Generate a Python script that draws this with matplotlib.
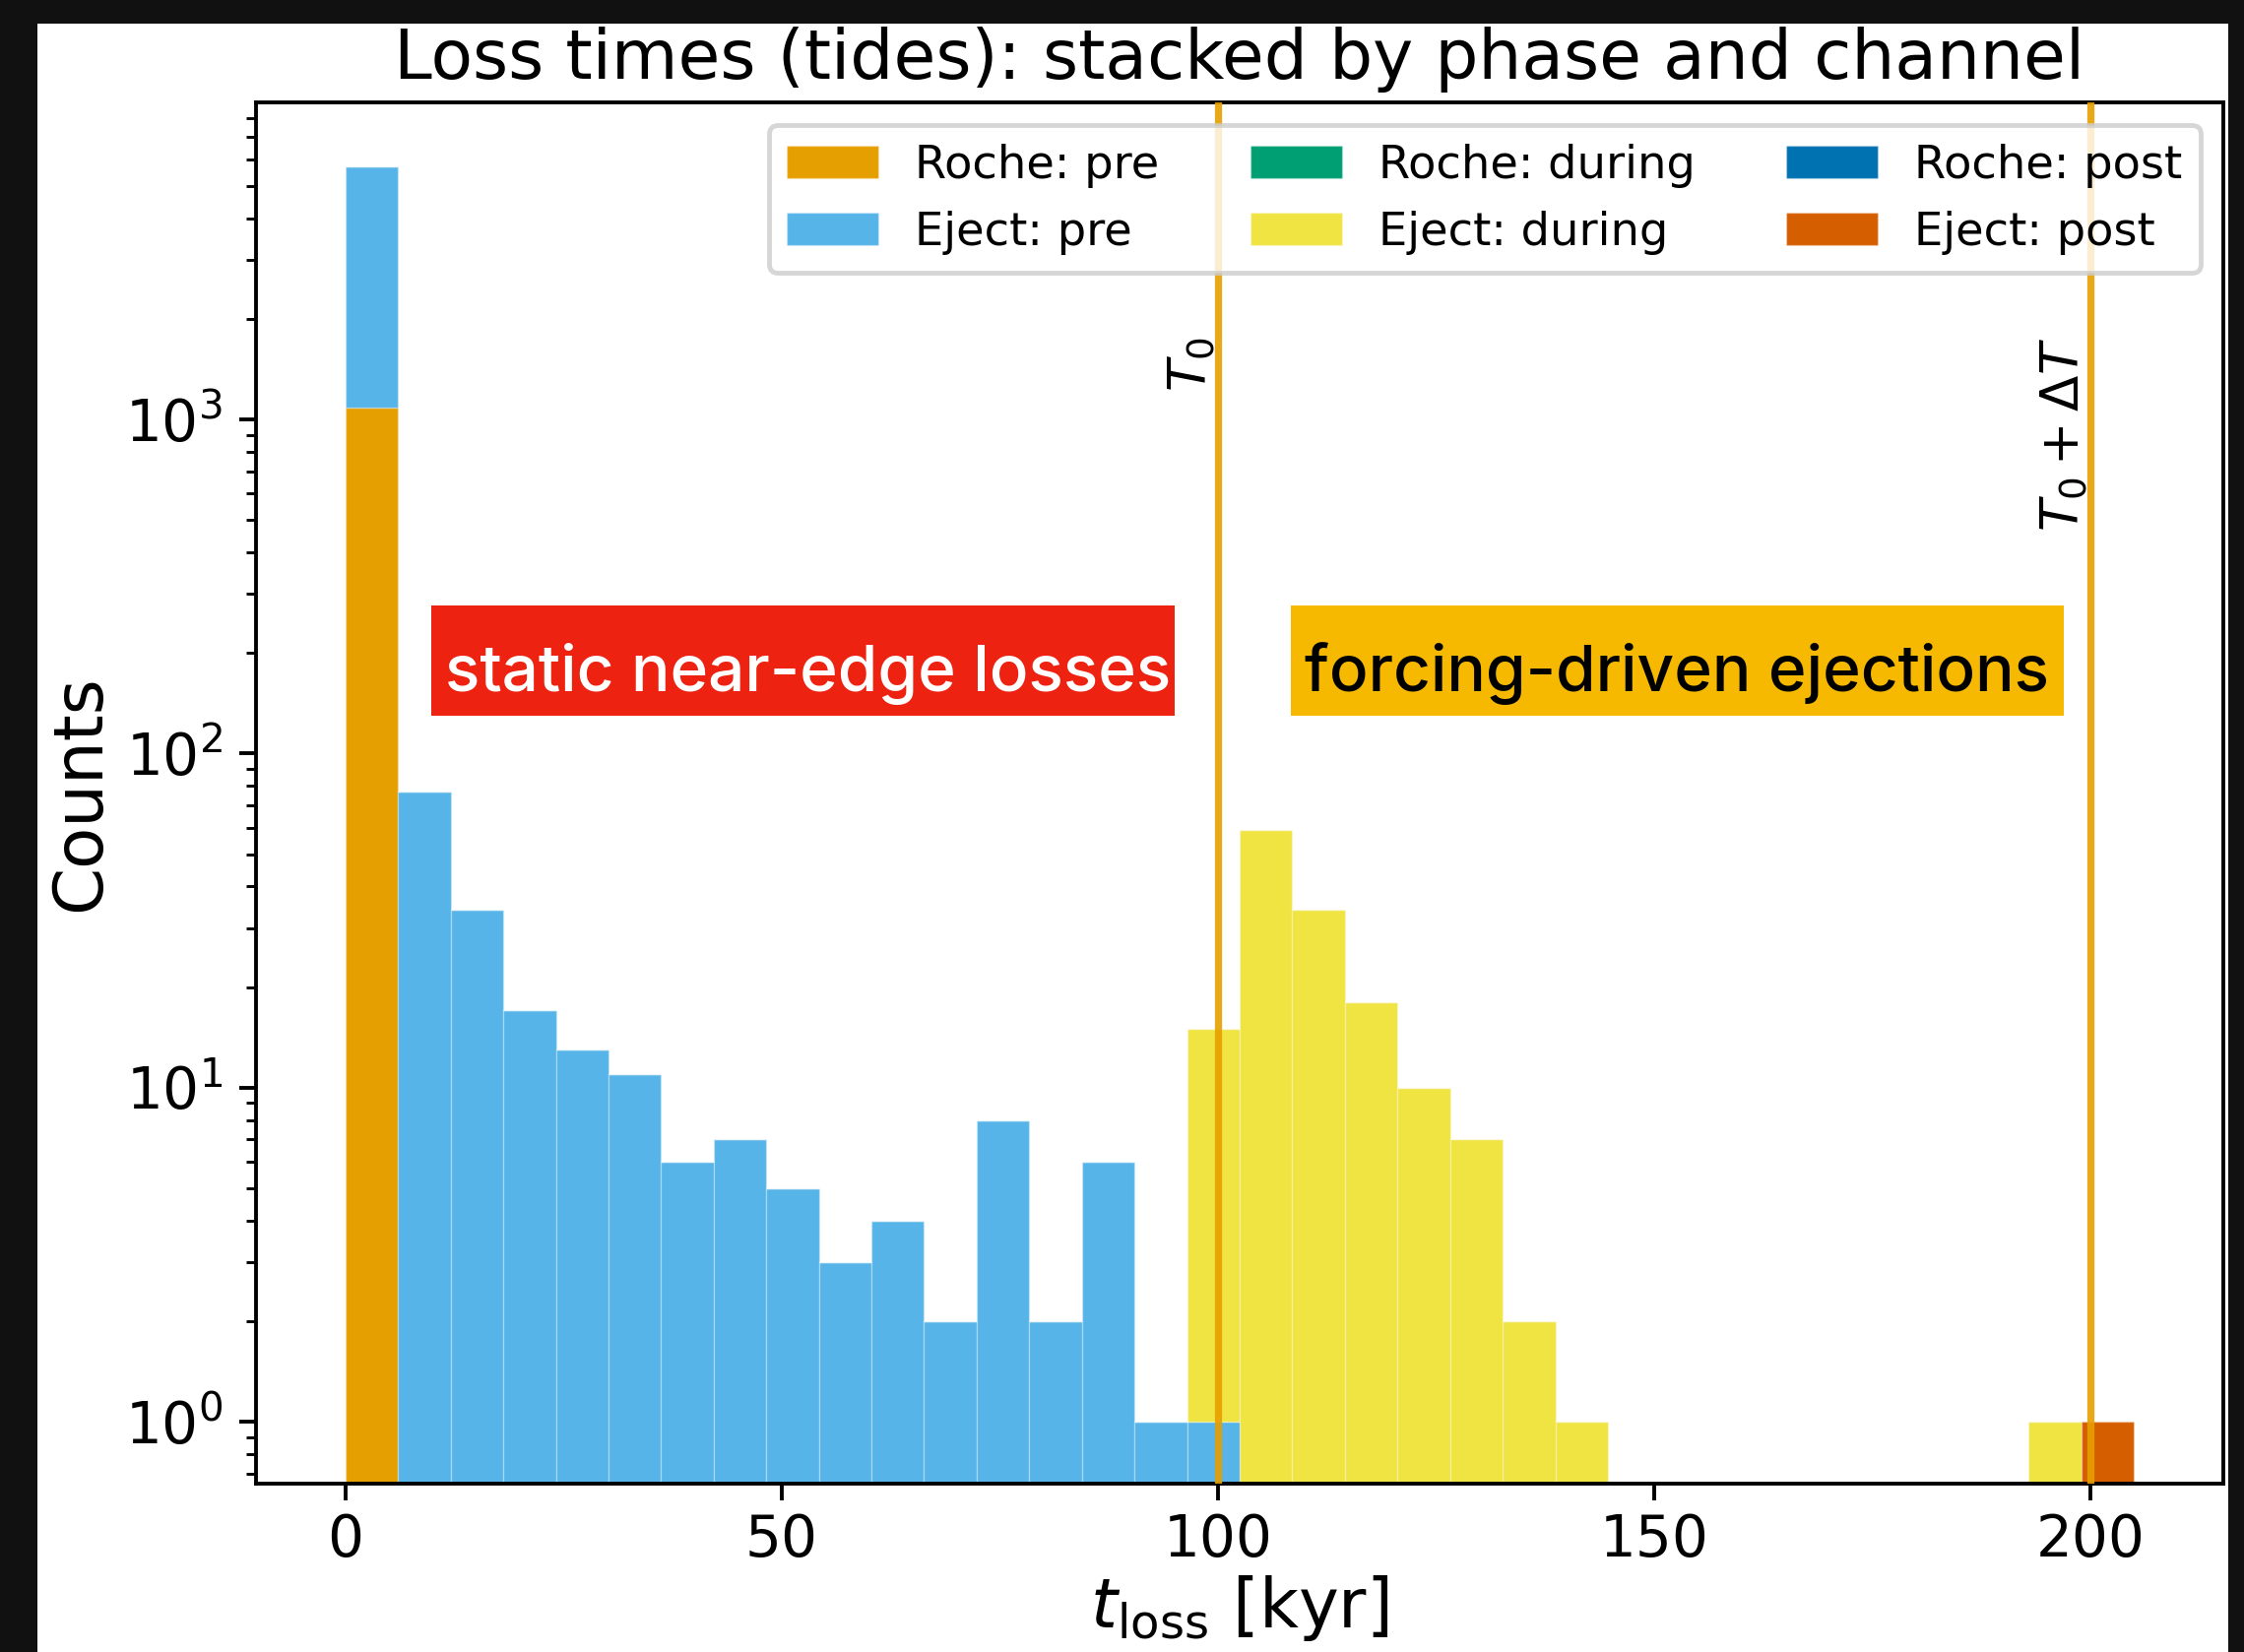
import numpy as np
import matplotlib.pyplot as plt
from matplotlib.patches import Rectangle

DPI = 347.7
W_PX, H_PX = 2279, 1678

# histogram bin edges [kyr]
BIN_EDGES = np.linspace(0.0, 205.0, 35)

# phase markers [kyr]
T0_KYR = 100.0
DELTA_T_KYR = 100.0

SERIES_LABELS = ["Roche: pre", "Eject: pre", "Roche: during",
                 "Eject: during", "Roche: post", "Eject: post"]
SERIES_COLORS = ["#E69F00", "#56B4E9", "#009E73", "#F0E442", "#0072B2", "#D55E00"]

# counts per bin (34 bins)
roche_pre = [1085, 0, 0, 0, 0, 0, 0, 0, 0, 0,
             0, 0, 0, 0, 0, 0, 0, 0, 0, 0,
             0, 0, 0, 0, 0, 0, 0, 0, 0, 0,
             0, 0, 0, 0]
eject_pre = [4630, 77, 34, 17, 13, 11, 6, 7, 5, 3,
             4, 2, 8, 2, 6, 1, 1, 0, 0, 0,
             0, 0, 0, 0, 0, 0, 0, 0, 0, 0,
             0, 0, 0, 0]
roche_during = [0, 0, 0, 0, 0, 0, 0, 0, 0, 0,
                0, 0, 0, 0, 0, 0, 0, 0, 0, 0,
                0, 0, 0, 0, 0, 0, 0, 0, 0, 0,
                0, 0, 0, 0]
eject_during = [0, 0, 0, 0, 0, 0, 0, 0, 0, 0,
                0, 0, 0, 0, 0, 0, 14, 59, 34, 18,
                10, 7, 2, 1, 0, 0, 0, 0, 0, 0,
                0, 0, 1, 0]
roche_post = [0, 0, 0, 0, 0, 0, 0, 0, 0, 0,
              0, 0, 0, 0, 0, 0, 0, 0, 0, 0,
              0, 0, 0, 0, 0, 0, 0, 0, 0, 0,
              0, 0, 0, 0]
eject_post = [0, 0, 0, 0, 0, 0, 0, 0, 0, 0,
              0, 0, 0, 0, 0, 0, 0, 0, 0, 0,
              0, 0, 0, 0, 0, 0, 0, 0, 0, 0,
              0, 0, 0, 1]


def main():
    fig = plt.figure(figsize=(W_PX / DPI, H_PX / DPI), dpi=DPI)
    fig.patch.set_facecolor("#111111")
    # white card of the screenshot
    fig.add_artist(Rectangle((38 / W_PX, 0), (2263 - 38) / W_PX, (H_PX - 24) / H_PX,
                             transform=fig.transFigure, facecolor="white",
                             edgecolor="none", zorder=-10))

    ax = fig.add_axes([0.1141, 0.1019, 0.8767, 0.8361])

    centers = 0.5 * (BIN_EDGES[:-1] + BIN_EDGES[1:])
    weights = [roche_pre, eject_pre, roche_during, eject_during, roche_post, eject_post]
    ax.hist([centers] * len(weights), bins=BIN_EDGES, weights=weights,
            stacked=True, color=SERIES_COLORS, label=SERIES_LABELS, log=True,
            edgecolor=(1, 1, 1, 0.25), linewidth=0.3)

    ax.set_xlim(-10.25, 215.25)
    ax.set_ylim(0.652, 8895)

    line_kw = dict(color="#E69F00", lw=1.5, alpha=0.9, zorder=3)
    ax.axvline(T0_KYR, **line_kw)
    ax.axvline(T0_KYR + DELTA_T_KYR, **line_kw)
    xtrans = ax.get_xaxis_transform()
    ax.text(T0_KYR, 0.83, r"$T_0$", rotation=90, ha="right", va="top",
            fontsize=11, transform=xtrans)
    ax.text(T0_KYR + DELTA_T_KYR, 0.83, r"$T_0+\Delta T$", rotation=90,
            ha="right", va="top", fontsize=11, transform=xtrans)

    ax.set_title("Loss times (tides): stacked by phase and channel",
                 fontsize=14.4, pad=5)
    ax.set_xlabel(r"$t_{\rm loss}$ [kyr]", fontsize=14.3, labelpad=1)
    ax.set_ylabel("Counts", fontsize=14.3, labelpad=2.5)
    ax.tick_params(axis="both", which="major", labelsize=12)
    ax.tick_params(axis="x", which="major", pad=2.5)

    leg = ax.legend(loc="upper right", ncol=3, fontsize=9.6)
    leg.set_zorder(5)

    # highlight boxes
    ax.add_patch(Rectangle((0.0891, 0.556), 0.378, 0.080, transform=ax.transAxes,
                           facecolor="#EE2210", edgecolor="none", zorder=6))
    ax.text(0.0961, 0.5738, "static near-edge losses", transform=ax.transAxes,
            family="Inter", fontweight="medium", fontsize=13.6, color="white",
            ha="left", va="baseline", zorder=7)
    ax.add_patch(Rectangle((0.526, 0.556), 0.393, 0.080, transform=ax.transAxes,
                           facecolor="#F6B900", edgecolor="none", zorder=6))
    ax.text(0.533, 0.5738, "forcing-driven ejections", transform=ax.transAxes,
            family="Inter", fontweight="medium", fontsize=13.6, color="black",
            ha="left", va="baseline", zorder=7)

    fig.savefig("out.png", dpi=DPI, facecolor=fig.get_facecolor())
    plt.close(fig)


if __name__ == "__main__":
    main()
